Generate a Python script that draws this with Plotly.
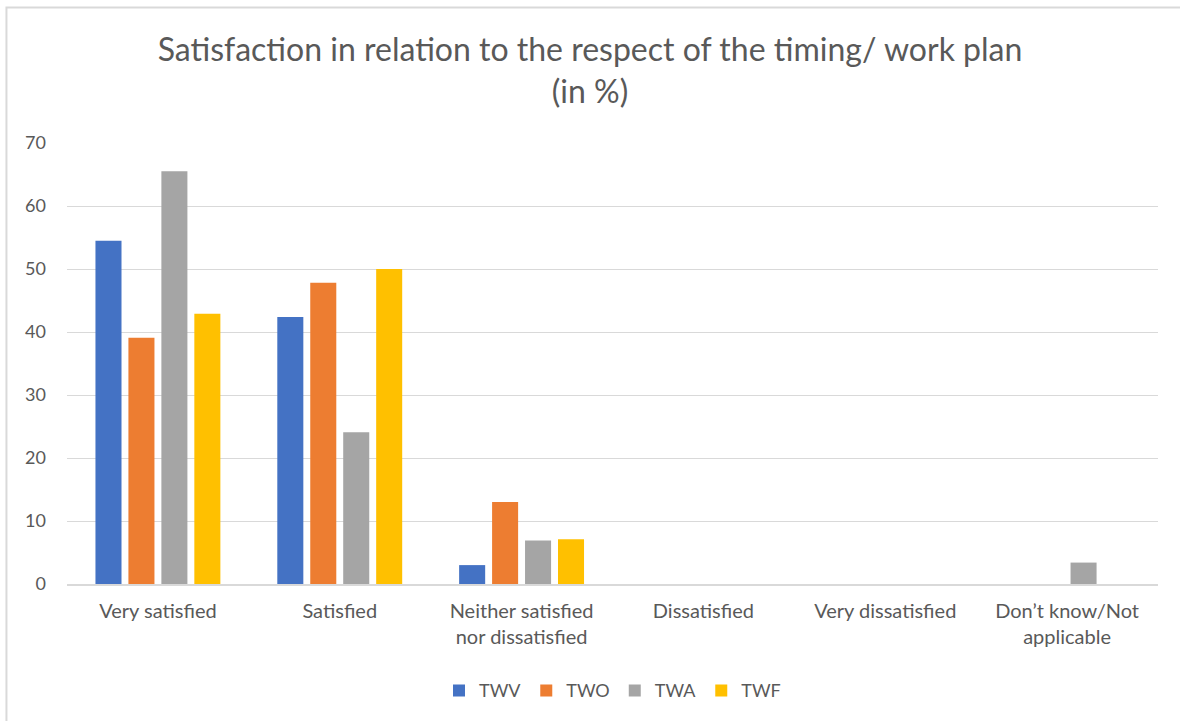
import plotly.graph_objects as go

# categories and series (percent)
categories = ["Very satisfied", "Satisfied", "Neither satisfied<br>nor dissatisfied",
              "Dissatisfied", "Very dissatisfied", "Don’t know/Not<br>applicable"]
twv = [54.5, 42.4, 3.0, 0, 0, 0]
two = [39.1, 47.8, 13.0, 0, 0, 0]
twa = [65.5, 24.1, 6.9, 0, 0, 3.4]
twf = [42.9, 50.0, 7.1, 0, 0, 0]
y_ticks = [0, 10, 20, 30, 40, 50, 60, 70]

FONT = "Lato, 'Open Sans', sans-serif"
GREY_TXT = "#595959"

fig = go.Figure()
for name, vals, col in [("TWV", twv, "#4472C4"), ("TWO", two, "#ED7D31"),
                        ("TWA", twa, "#A5A5A5"), ("TWF", twf, "#FFC000")]:
    fig.add_trace(go.Bar(name=name, x=categories, y=vals, marker_color=col,
                         marker_line_width=0))

fig.update_layout(
    width=1180, height=721,
    margin=dict(l=67, r=22, t=143, b=137),
    paper_bgcolor="white", plot_bgcolor="white",
    barmode="group", bargap=0.275, bargroupgap=0.21,
    title=dict(text="Satisfaction in relation to the respect of the timing/ work plan<br>(in %)",
               x=0.5, xanchor="center", y=0.915, yanchor="top",
               font=dict(family=FONT, size=32, color=GREY_TXT)),
    font=dict(family=FONT, color=GREY_TXT),
    legend=dict(orientation="h", x=0.5, xanchor="center", y=-0.2, yanchor="top",
                font=dict(size=18, color=GREY_TXT), traceorder="normal",
                itemwidth=30),
    showlegend=True,
)
fig.update_yaxes(range=[0, 70], tickvals=y_ticks, showgrid=True, gridcolor="#D9D9D9",
                 gridwidth=1, zeroline=False, showline=False,
                 tickfont=dict(size=18, color=GREY_TXT), ticks="", ticklabelstandoff=20)
fig.update_xaxes(showline=True, linecolor="#D9D9D9", linewidth=2,
                 tickfont=dict(size=20, color=GREY_TXT), ticks="", ticklabelstandoff=8)

# outer chart border (light grey frame)
fig.add_shape(type="rect", xref="paper", yref="paper", x0=-0.0555, x1=1.03,
              y0=-0.35, y1=1.307, line=dict(color="#D9D9D9", width=2), layer="below")

# drop the default page margin so the figure sits at the window corner
fig.write_html("out.html", config={"displayModeBar": False},
               post_script="document.body.style.margin='0';")
